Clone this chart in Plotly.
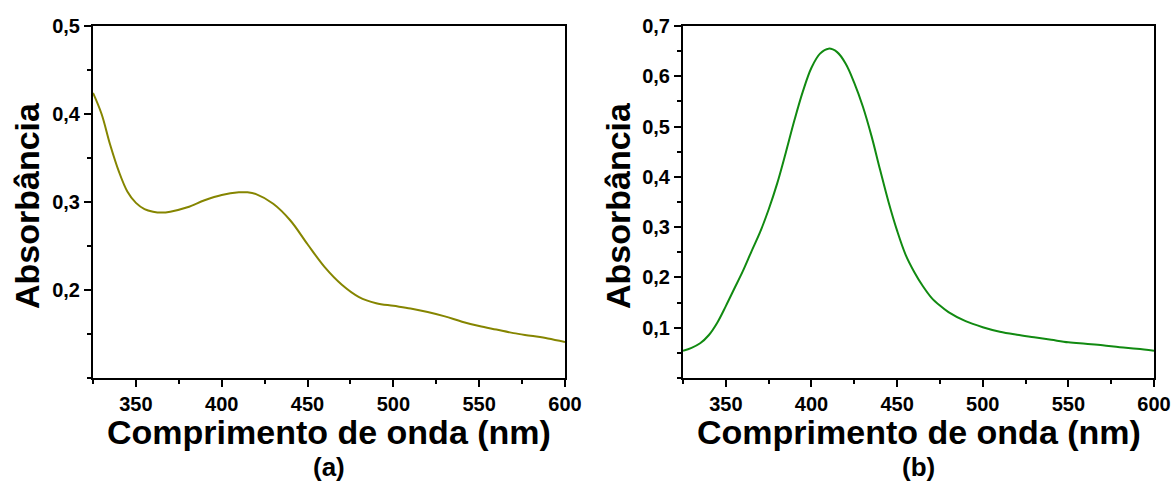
import plotly.graph_objects as go
from plotly.subplots import make_subplots

# Spectrum (a)
wl_a = [325, 330, 335, 340, 345, 350, 355, 360, 365, 370, 380, 390, 400, 410, 415,
        420, 430, 440, 450, 460, 470, 480, 490, 500, 510, 520, 530, 540, 550, 560,
        570, 580, 590, 600]
abs_a = [0.424, 0.400, 0.365, 0.335, 0.312, 0.299, 0.292, 0.289, 0.288, 0.289, 0.294,
         0.302, 0.308, 0.311, 0.311, 0.309, 0.298, 0.279, 0.252, 0.226, 0.206, 0.192,
         0.185, 0.182, 0.179, 0.175, 0.170, 0.164, 0.159, 0.155, 0.151, 0.148, 0.145,
         0.141]

# Spectrum (b)
wl_b = [325, 330, 335, 340, 345, 350, 355, 360, 365, 370, 375, 380, 385, 390, 395,
        400, 405, 410, 415, 420, 425, 430, 435, 440, 445, 450, 455, 460, 465, 470,
        475, 480, 490, 500, 510, 520, 530, 540, 550, 560, 570, 580, 590, 600]
abs_b = [0.054, 0.060, 0.069, 0.085, 0.110, 0.143, 0.178, 0.213, 0.252, 0.290, 0.335,
         0.387, 0.448, 0.512, 0.570, 0.617, 0.645, 0.655, 0.648, 0.625, 0.587, 0.540,
         0.482, 0.415, 0.350, 0.293, 0.245, 0.211, 0.183, 0.160, 0.144, 0.131, 0.113,
         0.101, 0.092, 0.086, 0.081, 0.076, 0.071, 0.068, 0.065, 0.061, 0.058, 0.054]

x_ticks = [350, 400, 450, 500, 550, 600]
y_ticks_a = [0.2, 0.3, 0.4, 0.5]
y_ticks_b = [0.1, 0.2, 0.3, 0.4, 0.5, 0.6, 0.7]

FONT = "Liberation Sans, Arial, sans-serif"
W, H = 1173, 485

def comma(v):
    return f"{v:.1f}".replace(".", ",")

fig = make_subplots(rows=1, cols=2)
fig.add_trace(go.Scatter(x=wl_a, y=abs_a, mode="lines", line=dict(color="#858500", width=2, shape="spline")), 1, 1)
fig.add_trace(go.Scatter(x=wl_b, y=abs_b, mode="lines", line=dict(color="#118a11", width=2, shape="spline")), 1, 2)

tickfont = dict(family=FONT, size=20, color="black", weight="bold")
minor_x = dict(ticks="outside", ticklen=4, tickwidth=2, tickcolor="black", dtick=25, tick0=325)
axis_common = dict(showline=True, linecolor="black", linewidth=2, mirror=True,
                   ticks="outside", ticklen=7, tickwidth=2, tickcolor="black",
                   showgrid=False, zeroline=False, tickfont=tickfont, automargin=False)

y0, y1 = (H - 378) / H, (H - 26) / H
fig.update_layout(
    width=W, height=H, margin=dict(l=0, r=0, t=0, b=0, autoexpand=False),
    paper_bgcolor="white", plot_bgcolor="white", showlegend=False,
    xaxis=dict(domain=[93 / W, 565 / W], range=[325, 600], tickvals=x_ticks,
               ticktext=[str(v) for v in x_ticks], minor=minor_x, **axis_common),
    yaxis=dict(domain=[y0, y1], range=[0.1, 0.5], tickvals=y_ticks_a,
               ticktext=[comma(v) for v in y_ticks_a],
               minor=dict(ticks="outside", ticklen=4, tickwidth=2, tickcolor="black", dtick=0.05, tick0=0.1),
               **axis_common),
    xaxis2=dict(domain=[683 / W, 1154 / W], range=[325, 600], tickvals=x_ticks,
                ticktext=[str(v) for v in x_ticks], minor=minor_x, **axis_common),
    yaxis2=dict(domain=[y0, y1], range=[0.0, 0.7], tickvals=y_ticks_b,
                ticktext=[comma(v) for v in y_ticks_b],
                minor=dict(ticks="outside", ticklen=4, tickwidth=2, tickcolor="black", dtick=0.05, tick0=0),
                **axis_common),
)

title_font = dict(family=FONT, size=34, color="black", weight="bold")
label_font = dict(family=FONT, size=26, color="black", weight="bold")

for cx, ytx, lab in [((93 + 565) / 2, 27, "(a)"), ((683 + 1154) / 2, 618, "(b)")]:
    fig.add_annotation(x=cx / W, y=1 - 432 / H, xref="paper", yref="paper",
                       text="Comprimento de onda (nm)", showarrow=False, font=title_font,
                       xanchor="center", yanchor="middle")
    fig.add_annotation(x=ytx / W, y=1 - 206 / H, xref="paper", yref="paper",
                       text="Absorbância", textangle=-90, showarrow=False, font=title_font,
                       xanchor="center", yanchor="middle")
    fig.add_annotation(x=cx / W, y=1 - 467 / H, xref="paper", yref="paper",
                       text=lab, showarrow=False, font=label_font,
                       xanchor="center", yanchor="middle")

fig.write_html("out.html")
